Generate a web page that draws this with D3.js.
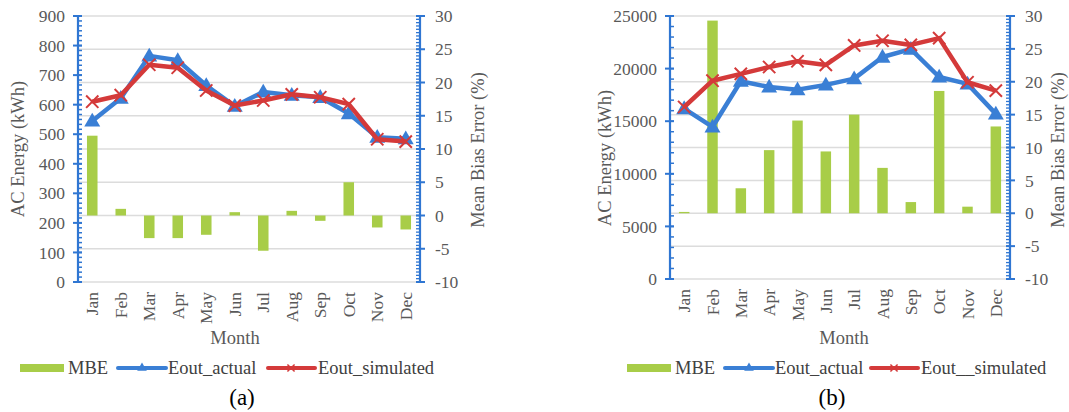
<!DOCTYPE html>
<html>
<head>
<meta charset="utf-8">
<script src="https://cdn.jsdelivr.net/npm/d3@7"></script>
<style>
  body { margin: 0; background: #fff; }
  svg { display: block; }
  svg text { font-family: "Liberation Serif", "DejaVu Serif", serif; }
</style>
</head>
<body>
<svg id="chart" width="1069" height="412"></svg>
<script>
// Monthly categories shared by both panels
const months = ["Jan", "Feb", "Mar", "Apr", "May", "Jun", "Jul", "Aug", "Sep", "Oct", "Nov", "Dec"];

// Panel (a): AC energy (kWh) and mean bias error (%)
const mbeA = [12.0, 1.0, -3.4, -3.4, -2.9, 0.5, -5.3, 0.7, -0.8, 5.0, -1.8, -2.1];
const actualA = [545, 622, 765, 750, 665, 595, 643, 632, 625, 570, 490, 485];
const simulatedA = [610, 632, 735, 725, 648, 597, 614, 635, 625, 602, 483, 475];

// Panel (b): AC energy (kWh) and mean bias error (%)
const mbeB = [0.2, 29.3, 3.8, 9.6, 14.1, 9.4, 15.0, 6.9, 1.7, 18.6, 1.0, 13.2];
const actualB = [16200, 14450, 18800, 18250, 18000, 18450, 19050, 21100, 21850, 19200, 18550, 15700];
const simulatedB = [16350, 18850, 19500, 20150, 20700, 20350, 22200, 22650, 22250, 22900, 18700, 17900];

// Axis tick values
const energyTicksA = [0, 100, 200, 300, 400, 500, 600, 700, 800, 900];
const energyTicksB = [0, 5000, 10000, 15000, 20000, 25000];
const errorTicks = [-10, -5, 0, 5, 10, 15, 20, 25, 30];

const GREEN = "#a8cd48";
const BLUE = "#3a7fd5";
const RED = "#d43a3a";
const AXIS = "#2f76d2";
const GRID = "#dcdcdc";
const TEXT = "#595959";
const FONT = "'Liberation Serif', 'DejaVu Serif', serif";

const svg = d3.select("#chart").attr("font-family", FONT);

function drawPanel(p) {
  const g = svg.append("g");
  const x = d3.scaleBand().domain(months).range([p.x0, p.x1]);
  const yL = d3.scaleLinear().domain([0, p.energyMax]).range([p.yBottom, p.yTop]);
  const yR = d3.scaleLinear().domain([-10, 30]).range([p.yBottom, p.yTop]);

  // horizontal gridlines at the error-axis majors
  g.append("g").selectAll("line").data(errorTicks).join("line")
    .attr("x1", p.x0).attr("x2", p.x1)
    .attr("y1", d => yR(d)).attr("y2", d => yR(d))
    .attr("stroke", GRID).attr("stroke-width", 1.5);

  // MBE bars from the zero line of the error axis
  const bw = x.bandwidth() * 0.37;
  g.append("g").selectAll("rect").data(p.mbe).join("rect")
    .attr("x", (d, i) => x(months[i]) + x.bandwidth() / 2 - bw / 2)
    .attr("width", bw)
    .attr("y", d => Math.min(yR(d), yR(0)))
    .attr("height", d => Math.abs(yR(d) - yR(0)))
    .attr("fill", GREEN);

  const cx = (d, i) => x(months[i]) + x.bandwidth() / 2;
  const line = d3.line().x(cx).y(d => yL(d));

  // actual output line with triangle markers
  g.append("path").datum(p.actual).attr("d", line)
    .attr("fill", "none").attr("stroke", BLUE).attr("stroke-width", 4.5).attr("stroke-linejoin", "round");
  const tri = d3.symbol().type(d3.symbolTriangle).size(110);
  g.append("g").selectAll("path").data(p.actual).join("path")
    .attr("d", tri)
    .attr("transform", (d, i) => `translate(${cx(d, i)},${yL(d) + 1})`)
    .attr("fill", BLUE);

  // simulated output line with x markers
  g.append("path").datum(p.simulated).attr("d", line)
    .attr("fill", "none").attr("stroke", RED).attr("stroke-width", 4.5).attr("stroke-linejoin", "round");
  const cross = d3.symbol().type(d3.symbolX).size(100);
  g.append("g").selectAll("path").data(p.simulated).join("path")
    .attr("d", cross)
    .attr("transform", (d, i) => `translate(${cx(d, i)},${yL(d)})`)
    .attr("fill", "none").attr("stroke", RED).attr("stroke-width", 2);

  // left energy axis: minor ticks inside, majors crossing
  const aL = g.append("g");
  const minorL = d3.range(0, p.energyMax + 1e-6, p.energyMinor);
  aL.selectAll("line.minor").data(minorL).join("line").attr("class", "minor")
    .attr("x1", p.x0).attr("x2", p.x0 + 4)
    .attr("y1", d => yL(d)).attr("y2", d => yL(d))
    .attr("stroke", AXIS).attr("stroke-width", 1.5);
  aL.selectAll("line.major").data(p.energyTicks).join("line").attr("class", "major")
    .attr("x1", p.x0 - 5).attr("x2", p.x0 + 4)
    .attr("y1", d => yL(d)).attr("y2", d => yL(d))
    .attr("stroke", AXIS).attr("stroke-width", 2);
  aL.append("line").attr("x1", p.x0).attr("x2", p.x0)
    .attr("y1", p.yTop - 1).attr("y2", p.yBottom + 1)
    .attr("stroke", AXIS).attr("stroke-width", 2.2);
  aL.selectAll("text").data(p.energyTicks).join("text")
    .attr("x", p.x0 - 13).attr("y", d => yL(d)).attr("dy", "0.35em")
    .attr("text-anchor", "end").attr("fill", TEXT).attr("font-size", 17.5)
    .text(d => d);

  // right error axis: minor ticks inside, majors crossing
  const aR = g.append("g");
  const minorR = d3.range(-10, 30.001, 0.5);
  aR.selectAll("line.minor").data(minorR).join("line").attr("class", "minor")
    .attr("x1", p.x1 - 4).attr("x2", p.x1)
    .attr("y1", d => yR(d)).attr("y2", d => yR(d))
    .attr("stroke", AXIS).attr("stroke-width", 1.3);
  aR.selectAll("line.major").data(errorTicks).join("line").attr("class", "major")
    .attr("x1", p.x1 - 4).attr("x2", p.x1 + 5)
    .attr("y1", d => yR(d)).attr("y2", d => yR(d))
    .attr("stroke", AXIS).attr("stroke-width", 2);
  aR.append("line").attr("x1", p.x1).attr("x2", p.x1)
    .attr("y1", p.yTop - 1).attr("y2", p.yBottom + 1)
    .attr("stroke", AXIS).attr("stroke-width", 2.2);
  aR.selectAll("text").data(errorTicks).join("text")
    .attr("x", p.x1 + 15).attr("y", d => yR(d)).attr("dy", "0.35em")
    .attr("text-anchor", "start").attr("fill", TEXT).attr("font-size", 17.5)
    .text(d => d);

  // rotated month labels
  g.append("g").selectAll("text").data(months).join("text")
    .attr("transform", (d, i) => `translate(${cx(d, i) + 6},${p.yBottom + 10}) rotate(-90)`)
    .attr("text-anchor", "end").attr("fill", TEXT).attr("font-size", 17.5)
    .text(d => d);

  // axis titles
  g.append("text").attr("x", p.monthX).attr("y", 344)
    .attr("text-anchor", "middle").attr("fill", TEXT).attr("font-size", 18.5)
    .text("Month");
  g.append("text")
    .attr("transform", `translate(${p.leftTitleX},${p.leftTitleY}) rotate(-90)`)
    .attr("text-anchor", "middle").attr("fill", TEXT).attr("font-size", 18.5)
    .text("AC Energy (kWh)");
  g.append("text")
    .attr("transform", `translate(${p.rightTitleX},${p.rightTitleY}) rotate(-90)`)
    .attr("text-anchor", "middle").attr("fill", TEXT).attr("font-size", 18.5)
    .text("Mean Bias Error (%)");

  // legend
  const lg = g.append("g").attr("transform", `translate(${p.legendX},368)`);
  lg.append("rect").attr("x", 0).attr("y", -4).attr("width", 44).attr("height", 8).attr("fill", GREEN);
  lg.append("text").attr("x", 48).attr("y", 0).attr("dy", "0.35em")
    .attr("fill", "#404040").attr("font-size", 18.5).text("MBE");
  lg.append("line").attr("x1", 98).attr("x2", 146).attr("y1", 0).attr("y2", 0)
    .attr("stroke", BLUE).attr("stroke-width", 4).attr("stroke-linecap", "round");
  lg.append("path").attr("d", d3.symbol().type(d3.symbolTriangle).size(40))
    .attr("transform", "translate(122,0)").attr("fill", BLUE);
  lg.append("text").attr("x", 148).attr("y", 0).attr("dy", "0.35em")
    .attr("fill", "#404040").attr("font-size", 18.5).text("Eout_actual");
  lg.append("line").attr("x1", p.legendRedX).attr("x2", p.legendRedX + 47).attr("y1", 0).attr("y2", 0)
    .attr("stroke", RED).attr("stroke-width", 4).attr("stroke-linecap", "round");
  lg.append("path").attr("d", d3.symbol().type(d3.symbolX).size(35))
    .attr("transform", `translate(${p.legendRedX + 23},0)`)
    .attr("fill", "none").attr("stroke", RED).attr("stroke-width", 1.5);
  lg.append("text").attr("x", p.legendRedX + 50).attr("y", 0).attr("dy", "0.35em")
    .attr("fill", "#404040").attr("font-size", 18.5).text(p.simLabel);

  // panel caption
  g.append("text").attr("x", p.captionX).attr("y", 405)
    .attr("text-anchor", "middle").attr("fill", "#000").attr("font-size", 23)
    .text(p.caption);
}

drawPanel({
  x0: 78, x1: 420, yTop: 16, yBottom: 282,
  energyMax: 900, energyMinor: 100 / 6, energyTicks: energyTicksA,
  mbe: mbeA, actual: actualA, simulated: simulatedA,
  monthX: 235, leftTitleX: 24, leftTitleY: 149, rightTitleX: 484, rightTitleY: 150,
  legendX: 20, legendRedX: 248, simLabel: "Eout_simulated",
  caption: "(a)", captionX: 242
});

drawPanel({
  x0: 670, x1: 1010, yTop: 16, yBottom: 279,
  energyMax: 25000, energyMinor: 1000, energyTicks: energyTicksB,
  mbe: mbeB, actual: actualB, simulated: simulatedB,
  monthX: 844, leftTitleX: 611, leftTitleY: 158, rightTitleX: 1064, rightTitleY: 150,
  legendX: 627, legendRedX: 244, simLabel: "Eout__simulated",
  caption: "(b)", captionX: 832
});
</script>
</body>
</html>
